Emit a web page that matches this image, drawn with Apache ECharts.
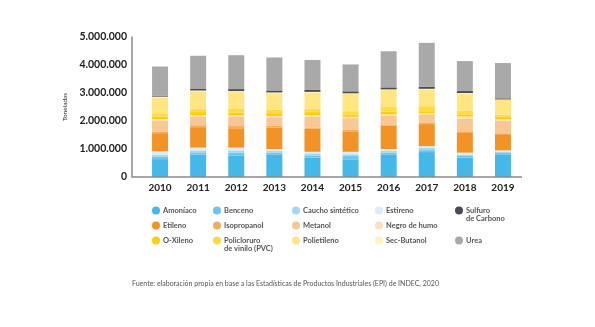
<!DOCTYPE html>
<html><head><meta charset="utf-8">
<script src="https://cdn.jsdelivr.net/npm/echarts@6/dist/echarts.min.js"></script>
<style>html,body{margin:0;padding:0;background:#fff}#c{width:595px;height:327px}</style>
</head><body><div id="c"></div>
<script>
const years = ['2010','2011','2012','2013','2014','2015','2016','2017','2018','2019'];
const yTicks = [0, 1000000, 2000000, 3000000, 4000000, 5000000];
const amoniaco   = [640000, 800000, 770000, 790000, 690000, 610000, 790000, 890000, 690000, 790000];
const benceno    = [95000, 80000, 100000, 80000, 80000, 140000, 80000, 70000, 60000, 70000];
const caucho     = [60000, 70000, 60000, 60000, 70000, 60000, 60000, 80000, 50000, 50000];
const estireno   = [120000, 100000, 120000, 70000, 60000, 90000, 70000, 60000, 70000, 40000];
const etileno    = [650000, 730000, 690000, 760000, 820000, 730000, 830000, 790000, 730000, 580000];
const isopropanol= [60000, 70000, 80000, 70000, 50000, 70000, 50000, 60000, 30000, 30000];
const metanol    = [390000, 300000, 330000, 300000, 380000, 400000, 310000, 290000, 450000, 460000];
const negroHumo  = [50000, 50000, 50000, 50000, 50000, 50000, 50000, 40000, 80000, 50000];
const oXileno    = [90000, 120000, 100000, 100000, 120000, 80000, 100000, 70000, 80000, 80000];
const pvc        = [100000, 120000, 130000, 120000, 120000, 120000, 180000, 180000, 120000, 80000];
const polietileno= [580000, 620000, 610000, 590000, 580000, 620000, 590000, 600000, 620000, 520000];
const secButanol = [35000, 30000, 30000, 30000, 20000, 20000, 20000, 20000, 20000, 20000];
const sulfuro    = [35000, 70000, 70000, 70000, 70000, 70000, 70000, 70000, 70000, 40000];
const urea       = [1040000, 1170000, 1210000, 1180000, 1070000, 960000, 1290000, 1570000, 1070000, 1260000];

const seriesDefs = [
  ['Amoníaco', amoniaco, '#45B8EA'],
  ['Benceno', benceno, '#6DC6EF'],
  ['Caucho sintético', caucho, '#A0D9F3'],
  ['Estireno', estireno, '#D5EEF9'],
  ['Etileno', etileno, '#F39325'],
  ['Isopropanol', isopropanol, '#F6AC5F'],
  ['Metanol', metanol, '#F9C794'],
  ['Negro de humo', negroHumo, '#FCDFC2'],
  ['O-Xileno', oXileno, '#FFD000'],
  ['Policloruro de vinilo (PVC)', pvc, '#FFDB40'],
  ['Polietileno', polietileno, '#FFE680'],
  ['Sec-Butanol', secButanol, '#FFF2BF'],
  ['Sulfuro de Carbono', sulfuro, '#4A4B55'],
  ['Urea', urea, '#A9A9A9']
];

const FONT = 'Lato';
const ICON = 8, TEXT_PAD = -2;
const firstLine = {'Policloruro de vinilo (PVC)': 'Policloruro', 'Sulfuro de Carbono': 'Sulfuro'};
const legendTextStyle = {fontFamily: FONT, fontSize: 7.5, fontWeight: 'bold', color: '#555', lineHeight: 9, padding: [0, 0, 0, TEXT_PAD]};
function mkLegend(names, left, top) {
  return {
    orient: 'vertical', left: left, top: top, itemGap: 6, padding: 0,
    itemWidth: ICON, itemHeight: ICON, icon: 'circle',
    selectedMode: false,
    textStyle: legendTextStyle,
    formatter: function (n) { return firstLine[n] || n; },
    data: names
  };
}
function secondLine(text, legendLeft, y) {
  return {
    type: 'text', x: legendLeft + ICON + 5 + TEXT_PAD, y: y,
    style: {text: text, fontFamily: FONT, fontSize: 7.5, fontWeight: 'bold', fill: '#555', verticalAlign: 'middle'}
  };
}

const chart = echarts.init(document.getElementById('c'), null, {renderer: 'canvas'});
const option = {
  animation: false,
  grid: {left: 141, right: 73, top: 37, bottom: 150},
  xAxis: {
    type: 'category', data: years,
    axisLine: {show: false},
    axisTick: {show: false},
    axisLabel: {fontFamily: FONT, fontWeight: 'bold', fontSize: 10, color: '#222', margin: 6}
  },
  yAxis: {
    type: 'value', min: yTicks[0], max: yTicks[yTicks.length - 1], interval: 1000000,
    offset: 9,
    name: 'Toneladas', nameLocation: 'middle', nameGap: 62, nameRotate: 90,
    nameTextStyle: {fontFamily: FONT, fontSize: 6.5, color: '#333'},
    axisLine: {show: true, lineStyle: {color: '#8a8a8a', width: 1.5}},
    axisTick: {show: false},
    splitLine: {show: false},
    axisLabel: {
      fontFamily: FONT, fontWeight: 'bold', fontSize: 10.5, color: '#222', margin: 5,
      formatter: function (v) { return v.toString().replace(/\B(?=(\d{3})+(?!\d))/g, '.'); }
    }
  },
  legend: [
    mkLegend(['Amoníaco', 'Etileno', 'O-Xileno'], 152, 206),
    mkLegend(['Benceno', 'Isopropanol', 'Policloruro de vinilo (PVC)'], 213, 206),
    mkLegend(['Caucho sintético', 'Metanol', 'Polietileno'], 292, 206),
    mkLegend(['Estireno', 'Negro de humo', 'Sec-Butanol'], 375, 206),
    mkLegend(['Sulfuro de Carbono'], 455, 206),
    mkLegend(['Urea'], 455, 236)
  ],
  series: seriesDefs.map(function (d) {
    return {
      name: d[0], type: 'bar', stack: 'total', data: d[1], barWidth: 16,
      itemStyle: {color: d[2]}
    };
  }),
  graphic: [{
    type: 'text', left: 132, top: 280,
    style: {
      text: 'Fuente: elaboración propia en base a las Estadísticas de Productos Industriales (EPI) de INDEC, 2020',
      fontFamily: FONT, fontSize: 7, fill: '#555'
    }
  },
  secondLine('de vinilo (PVC)', 213, 248.5),
  secondLine('de Carbono', 455, 218.5)
  ]
};
chart.setOption(option);
// x-axis baseline from y-axis line to end of category band
const p0 = chart.convertToPixel({gridIndex: 0}, [0, 0]);
const pEnd = chart.convertToPixel({gridIndex: 0}, [years.length - 1, 0]);
const band = (pEnd[0] - p0[0]) / (years.length - 1);
chart.setOption({graphic: [{}, {}, {}, {
  type: 'line', z: 10,
  shape: {x1: p0[0] - band / 2 - 9, y1: p0[1], x2: pEnd[0] + band / 2, y2: p0[1]},
  style: {stroke: '#8a8a8a', lineWidth: 1.5}
}]});
</script></body></html>
